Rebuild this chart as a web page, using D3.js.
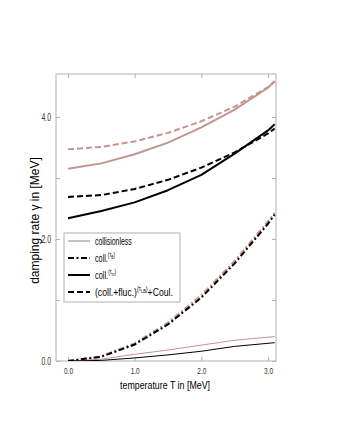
<!DOCTYPE html>
<html><head><meta charset="utf-8">
<script src="https://cdn.jsdelivr.net/npm/d3@7"></script>
<style>body{margin:0;background:#fff}svg{display:block}</style>
</head><body>
<script>
const temps = [0, 0.5, 1.0, 1.5, 2.0, 2.5, 3.0, 3.1];
const flucPink   = [3.47, 3.51, 3.60, 3.74, 3.93, 4.17, 4.49, 4.58];
const tauMPink   = [3.15, 3.24, 3.39, 3.58, 3.83, 4.12, 4.48, 4.59];
const flucBlack  = [2.69, 2.72, 2.82, 2.97, 3.17, 3.42, 3.73, 3.81];
const tauMBlack  = [2.34, 2.46, 2.60, 2.80, 3.05, 3.40, 3.78, 3.88];
const tauBBlack  = [0, 0.07, 0.27, 0.60, 1.04, 1.60, 2.25, 2.40];
const tauBPink   = [0, 0.08, 0.29, 0.63, 1.08, 1.64, 2.29, 2.43];
const collPink   = [0, 0.03, 0.11, 0.18, 0.26, 0.34, 0.39, 0.40];
const collBlack  = [0, 0.01, 0.05, 0.10, 0.16, 0.24, 0.29, 0.30];
const xTicks = [0, 1, 2, 3];
const yTicks = [0, 1, 2, 3, 4];
const yLabels = ["0.0", "", "2.0", "", "4.0"];
const xLabels = ["0.0", "1.0", "2.0", "3.0"];

const W = 354, H = 436;
const pink = "#c4948f", black = "#000";
const styles = {
  coll: {w: 1, dash: null},
  tauB: {w: 2, dash: "6,2.5,2,2.5"},
  tauM: {w: 2, dash: null},
  fluc: {w: 2, dash: "6,3"}
};
const series = [
  {v: collPink, c: pink, s: "coll"},
  {v: collBlack, c: black, s: "coll"},
  {v: tauBPink, c: pink, s: "tauB"},
  {v: tauBBlack, c: black, s: "tauB"},
  {v: tauMPink, c: pink, s: "tauM"},
  {v: flucPink, c: pink, s: "fluc"},
  {v: tauMBlack, c: black, s: "tauM"},
  {v: flucBlack, c: black, s: "fluc"}
];

const L = 56, R = 276, T = 74, B = 361;
const x = d3.scaleLinear().domain([-0.18, 3.12]).range([L, R]);
const y = d3.scaleLinear().domain([0, 4.705]).range([B, T]);

const svg = d3.select("body").append("svg").attr("width", W).attr("height", H);
const sans = "'Liberation Sans',Arial,sans-serif";

svg.append("defs").append("clipPath").attr("id", "clip")
  .append("rect").attr("x", L).attr("y", T).attr("width", R - L).attr("height", B - T);

// frame + ticks
const axCol = "#b0b0b0";
svg.append("rect").attr("x", L).attr("y", T).attr("width", R - L).attr("height", B - T)
  .attr("fill", "none").attr("stroke", axCol).attr("stroke-width", 1);

const tickFmt = (arr) => (d, i) => arr[i];
const gB = svg.append("g").attr("transform", `translate(0,${B})`)
  .call(d3.axisBottom(x).tickValues(xTicks).tickSizeInner(-4).tickSizeOuter(0).tickPadding(6).tickFormat(tickFmt(xLabels)));
const gT = svg.append("g").attr("transform", `translate(0,${T})`)
  .call(d3.axisTop(x).tickValues(xTicks).tickSizeInner(-4).tickSizeOuter(0).tickFormat(""));
const gL = svg.append("g").attr("transform", `translate(${L},0)`)
  .call(d3.axisLeft(y).tickValues(yTicks).tickSizeInner(-4).tickSizeOuter(0).tickPadding(5).tickFormat(tickFmt(yLabels)));
const gR = svg.append("g").attr("transform", `translate(${R},0)`)
  .call(d3.axisRight(y).tickValues(yTicks).tickSizeInner(-4).tickSizeOuter(0).tickFormat(""));
[gB, gT, gL, gR].forEach(g => {
  g.select(".domain").remove();
  g.selectAll(".tick line").attr("stroke", axCol);
  g.selectAll("text").attr("fill", "#333").style("font-family", sans).style("font-size", "10px")
    .each(function() {
      const t = d3.select(this);
      const tx = +t.attr("x") || 0, ty = +t.attr("y") || 0;
      t.attr("transform", `translate(${tx},${ty}) scale(0.68,1)`).attr("x", 0).attr("y", 0);
    });
});
gB.selectAll("text").style("font-size", "9.5px").attr("dy", "0.71em");

// lines
const line = d3.line().x((d, i) => x(temps[i])).y(d => y(d));
const plot = svg.append("g").attr("clip-path", "url(#clip)");
series.forEach(sr => {
  const st = styles[sr.s];
  plot.append("path").datum(sr.v).attr("d", line)
    .attr("fill", "none").attr("stroke", sr.c).attr("stroke-width", st.w)
    .attr("stroke-dasharray", st.dash).attr("stroke-linejoin", "round");
});

// legend
const lg = svg.append("g");
lg.append("rect").attr("x", 64).attr("y", 233).attr("width", 116).attr("height", 69)
  .attr("fill", "#fff").attr("stroke", axCol);
const legendItems = [
  {s: "coll", c: "#888", w: 37, parts: [["collisionless", 0]]},
  {s: "tauB", c: black, w: 20, parts: [["coll.", 0], ["(τ", 1], ["B", 2], [")", 3]]},
  {s: "tauM", c: black, w: 21, parts: [["coll.", 0], ["(τ", 1], ["m", 2], [")", 3]]},
  {s: "fluc", c: black, w: 78, parts: [["(coll.+fluc.)", 0], ["(τ", 1], ["LB", 2], [")", 3], ["+Coul.", 4]]}
];
const legY = [241, 258, 275, 292];
legendItems.forEach((it, i) => {
  const st = styles[it.s];
  lg.append("line").attr("x1", 68).attr("x2", 90).attr("y1", legY[i]).attr("y2", legY[i])
    .attr("stroke", it.c).attr("stroke-width", st.w).attr("stroke-dasharray", st.dash);
  const t = lg.append("text").attr("x", 0).attr("y", 0)
    .style("font-family", sans).style("font-size", "11px").attr("fill", "#000");
  it.parts.forEach(p => {
    const ts = t.append("tspan").text(p[0]);
    if (p[1] === 1) ts.style("font-size", "7px").attr("dy", -5);
    if (p[1] === 2) ts.style("font-size", "5px").attr("dy", 1.5);
    if (p[1] === 3) ts.style("font-size", "7px").attr("dy", -1.5);
    if (p[1] === 4) ts.attr("dy", 5);
  });
  const bw = t.node().getBBox().width;
  t.attr("transform", `translate(95,${legY[i] + 4}) scale(${it.w / bw},1)`);
});

// axis titles
const xt = svg.append("text").attr("text-anchor", "middle")
  .style("font-family", sans).style("font-size", "11.5px").attr("fill", "#000")
  .text("temperature T in [MeV]");
const xw = xt.node().getBBox().width;
xt.attr("transform", `translate(165,389) scale(${90 / xw},1)`);

svg.append("text").attr("transform", `translate(39,${(T + B) / 2 + 3}) rotate(-90)`)
  .attr("text-anchor", "middle")
  .style("font-family", sans).style("font-size", "12px").attr("fill", "#000")
  .text("damping rate γ in [MeV]");
</script>
</body></html>
